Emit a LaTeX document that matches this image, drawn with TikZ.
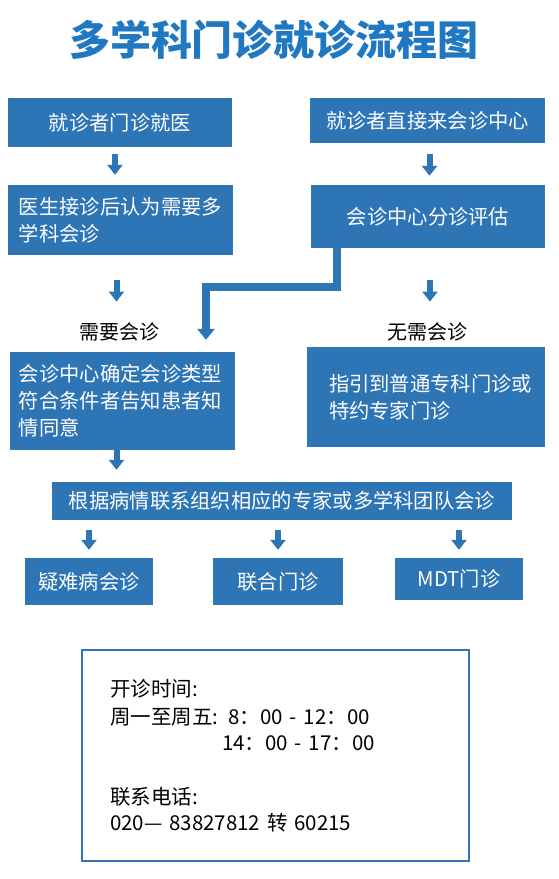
\documentclass[tikz,border=0pt]{standalone}
\usepackage{fontspec}
\setmainfont{Noto Sans CJK SC}
\usetikzlibrary{positioning,arrows.meta,calc}
\definecolor{cFlow}{HTML}{2E75B6}
\definecolor{cTitle}{HTML}{1F78C1}

\tikzset{
  flowbox/.style={fill=cFlow,text=white,inner sep=0pt,
                  font=\fontsize{20.3}{27}\selectfont},
  tag/.style={inner sep=0pt,font=\fontsize{20}{24}\selectfont},
  downarrow/.style={draw=cFlow,line width=6pt,
                    -{Triangle[width=15pt,length=10pt]}},
  bentarrow/.style={draw=cFlow,line width=8pt,
                    -{Triangle[width=17pt,length=11pt]}}
}

\begin{document}
\begin{tikzpicture}[x=1pt,y=-1pt]
  \useasboundingbox (0,0) rectangle (558,879);

  % title
  \node[text=cTitle,font=\fontsize{41}{48}\bfseries\selectfont] (title)
    at (274,40) {多学科门诊就诊流程图};

  % left column
  \node[flowbox,minimum width=224pt,minimum height=49pt] (b1)
    at (120,122.5) {就诊者门诊就医};
  \node[flowbox,minimum width=225pt,minimum height=70pt,
        text width=203pt,align=left] (b3)
    at (120.5,220) {医生接诊后认为需要多\\学科会诊};
  \node[tag] (need) at (119,332) {需要会诊};
  \node[flowbox,minimum width=225pt,minimum height=98pt,
        text width=207pt,align=left] (b5)
    at (122.5,401) {会诊中心确定会诊类型\\符合条件者告知患者知\\情同意};

  % right column
  \node[flowbox,minimum width=235pt,minimum height=45pt] (b2)
    at (427.5,120.5) {就诊者直接来会诊中心};
  \node[flowbox,minimum width=234pt,minimum height=63pt] (b4)
    at (428,216.5) {会诊中心分诊评估};
  \node[tag] (noneed) at (427,332) {无需会诊};
  \node[flowbox,minimum width=238pt,minimum height=100pt,
        text width=194pt,align=left] (b6)
    at (426,397) {指引到普通专科门诊或\\特约专家门诊};

  % joint consultation
  \node[flowbox,minimum width=460pt,minimum height=38pt] (b7)
    at (282,501) {根据病情联系组织相应的专家或多学科团队会诊};
  \node[flowbox,minimum width=128pt,minimum height=47pt] (b8)
    at (89,581.5) {疑难病会诊};
  \node[flowbox,minimum width=130pt,minimum height=47pt] (b9)
    at (278,581.5) {联合门诊};
  \node[flowbox,minimum width=128pt,minimum height=42pt] (b10)
    at (459,579) {MDT门诊};

  % opening hours
  \node[draw=cFlow,line width=1.2pt,minimum width=387pt,minimum height=211pt,
        text width=331pt,inner xsep=28pt,align=left,
        font=\fontsize{20.5}{26}\selectfont] (info) at (275.5,755.5)
    {开诊时间:\\[2pt]
     周一至周五: 8：00 - 12：00\\
     \hspace*{112pt}14：00 - 17：00\\[28pt]
     联系电话:\\
     020— 83827812 转 60215};

  % connectors
  \draw[downarrow,shorten <=7pt,shorten >=10pt]
    ([xshift=-5pt]b1.south) -- ([xshift=-5pt]b1.south |- b3.north);
  \draw[downarrow,shorten <=11pt,shorten >=9pt]
    ([xshift=2pt]b2.south) -- ([xshift=2pt]b2.south |- b4.north);
  \draw[downarrow,shorten <=25pt,shorten >=21pt]
    ([xshift=-4pt]b3.south) -- ([xshift=-4pt]b3.south |- need.north);
  \draw[downarrow,shorten <=32pt,shorten >=21pt]
    ([xshift=2pt]b4.south) -- ([xshift=2pt]b4.south |- noneed.north);
  \coordinate (bend) at (206,287);
  \draw[bentarrow,shorten >=12pt] ([xshift=26pt]b4.south west) |- (bend)
    -- (bend |- b5.north);
  \draw[downarrow,shorten <=0pt,shorten >=12pt]
    ([xshift=-6pt]b5.south) -- ([xshift=-6pt]b5.south |- b7.north);
  \foreach \b in {b8,b9,b10}
    \draw[downarrow,shorten <=10pt,shorten >=8pt]
      (\b.north |- b7.south) -- (\b.north);
\end{tikzpicture}
\end{document}
